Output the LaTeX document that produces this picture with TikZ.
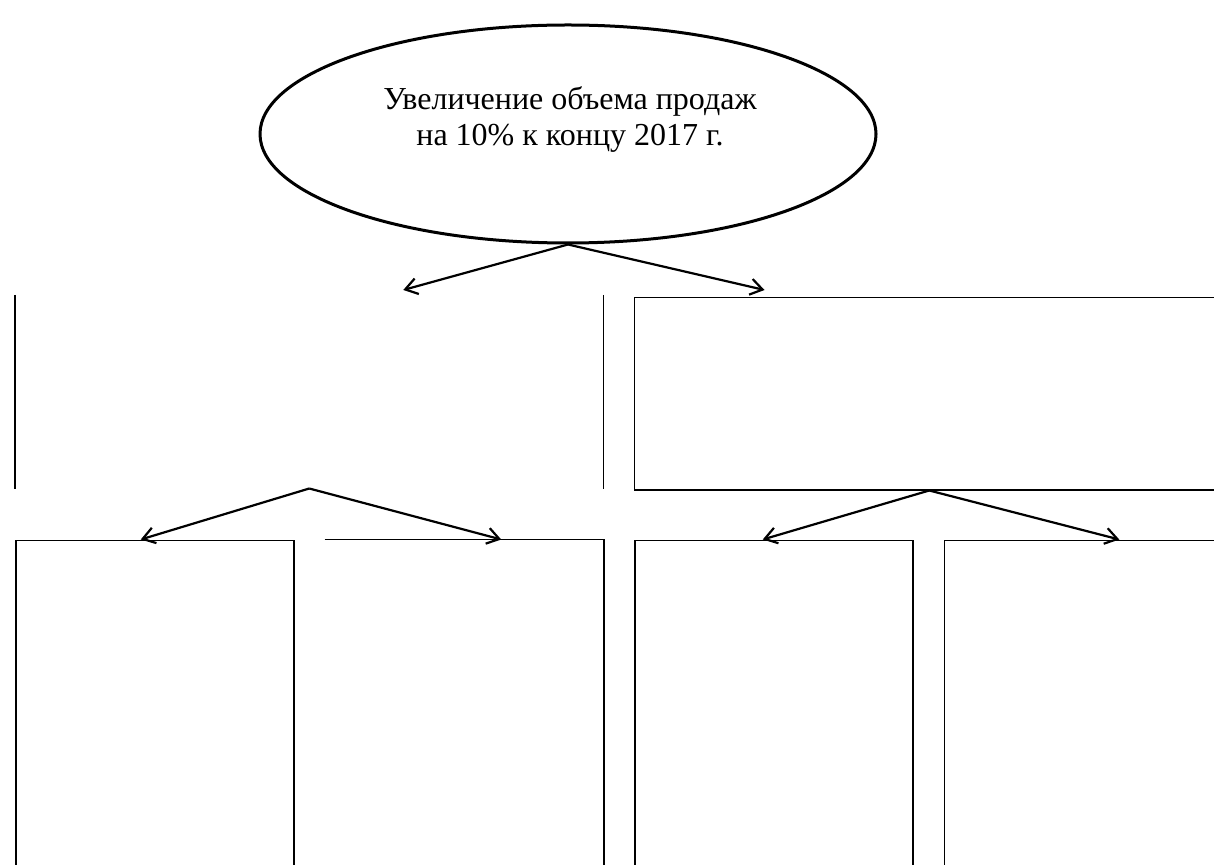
\documentclass[tikz,border=0pt]{standalone}
\usepackage{fontspec}
\setmainfont{Liberation Serif}
\usepackage{tikz}
\usetikzlibrary{shapes,arrows.meta,positioning}

\begin{document}
\begin{tikzpicture}[x=0.5pt, y=-0.5pt,
    node distance=15pt,
    goalshape/.style={ellipse, draw, line width=1.5pt, inner sep=0pt, minimum width=308pt, minimum height=109pt},
    goaltext/.style={align=center, font=\fontsize{16}{18}\selectfont},
    box/.style={rectangle, line width=0.75pt, inner sep=0pt, minimum width=139pt, minimum height=180pt},
    wide/.style={rectangle, line width=0.75pt, inner sep=0pt, minimum width=295pt, minimum height=96pt},
    link/.style={line width=1.1pt, -{Straight Barb[length=6pt, width=8pt]}}]
    \useasboundingbox (0,0) rectangle (1214,865);
    \clip (0,0) rectangle (1214,865);
    % goal
    \node[goalshape] (goal) at (568,134) {};
    \node[goaltext] (goallabel) at (570,120) {Увеличение объема продаж\\на 10\% к концу 2017 г.};
    % second level
    \node[wide, minimum width=293.5pt, anchor=north west] (tasks1) at (15,295) {};
    \node[wide, draw, right=of tasks1, yshift=-1pt] (tasks2) {};
    \draw[line width=0.75pt] (tasks1.north west) -- (tasks1.south west);
    \draw[line width=0.75pt] (tasks1.north east) -- (tasks1.south east);
    % third level
    \node[box, draw, below=25.5pt of tasks1.south west, anchor=north west] (ll) {};
    \node[box, right=of ll] (lr) {};
    \node[box, draw, right=of lr] (rl) {};
    \node[box, draw, right=of rl] (rr) {};
    \draw[line width=0.75pt] (lr.north west) -- (lr.north east) -- (lr.south east);
    % arrows
    \draw[link] (goal.south) -- ([xshift=47pt, yshift=2.5pt]tasks1.north);
    \draw[link] (goal.south) -- ([xshift=65.5pt, yshift=3.5pt]tasks2.north west);
    \draw[link] (tasks1.south) -- ([xshift=-7pt]ll.north);
    \draw[link] (tasks1.south) -- ([xshift=18.5pt]lr.north);
    \draw[link] (tasks2.south) -- ([xshift=-5.5pt]rl.north);
    \draw[link] (tasks2.south) -- ([xshift=18pt]rr.north);
\end{tikzpicture}
\end{document}
